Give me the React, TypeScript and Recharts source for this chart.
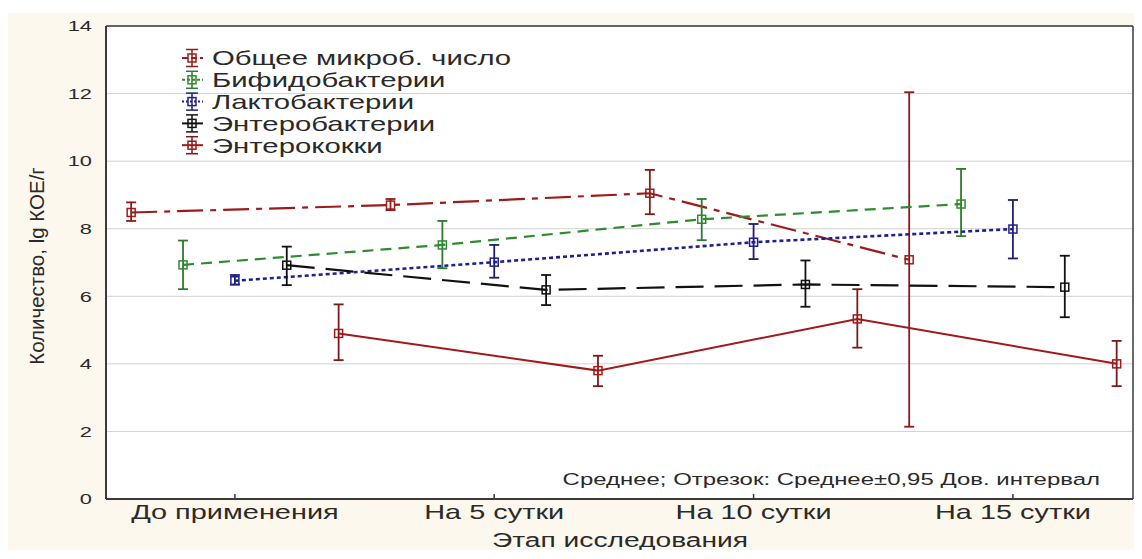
import React from 'react';
import { ComposedChart, Line, XAxis, YAxis, CartesianGrid, ErrorBar, Customized } from 'recharts';

// ---------- data ----------
const categories = ['До применения', 'На 5 сутки', 'На 10 сутки', 'На 15 сутки'];
const seriesNames = ['Общее микроб. число', 'Бифидобактерии', 'Лактобактерии', 'Энтеробактерии', 'Энтерококки'];

const totalMean = [8.48, 8.7, 9.05, 7.08];
const totalLow = [8.23, 8.55, 8.43, 2.14];
const totalHigh = [8.78, 8.88, 9.74, 12.04];

const bifidoMean = [6.93, 7.52, 8.28, 8.73];
const bifidoLow = [6.21, 6.83, 7.66, 7.78];
const bifidoHigh = [7.65, 8.23, 8.88, 9.77];

const lactoMean = [6.46, 7.01, 7.6, 7.99];
const lactoLow = [6.35, 6.55, 7.1, 7.12];
const lactoHigh = [6.63, 7.52, 8.14, 8.85];

const enteroMean = [6.92, 6.19, 6.35, 6.27];
const enteroLow = [6.33, 5.74, 5.69, 5.38];
const enteroHigh = [7.47, 6.63, 7.06, 7.2];

const coccusMean = [4.9, 3.8, 5.33, 4.0];
const coccusLow = [4.11, 3.34, 4.48, 3.34];
const coccusHigh = [5.76, 4.24, 6.21, 4.68];

const yTicks = [0, 2, 4, 6, 8, 10, 12, 14];
const xTitle = 'Этап исследования';
const yTitle = 'Количество, lg КОЕ/г';
const footnote = 'Среднее; Отрезок: Среднее±0,95 Дов. интервал';

// ---------- styles ----------
const FONT = '"Liberation Sans", Arial, sans-serif';
const SX = 1.41;
const TEXT = '#2a2a2a';
const AXIS = '#3a3a3a';
const STYLES = [
  { color: '#9c1c1c', bar: '#8a1a1a', dash: '26 7 6 7', legendDash: '6 3', offset: -0.4, width: 2.2 },
  { color: '#2e8b2e', bar: '#2e7a2e', dash: '11 7', legendDash: '3 2', offset: -0.2, width: 2.2 },
  { color: '#1f1f8f', bar: '#1f1f6f', dash: '4 3', legendDash: '2 2', offset: 0, width: 2.6 },
  { color: '#111111', bar: '#111111', dash: '28 11', legendDash: undefined as string | undefined, offset: 0.2, width: 2.2 },
  { color: '#a01a1a', bar: '#7a1a1a', dash: undefined as string | undefined, legendDash: undefined as string | undefined, offset: 0.4, width: 2 },
];
const DOMAIN: [number, number] = [-0.497, 3.463];

const means = [totalMean, bifidoMean, lactoMean, enteroMean, coccusMean];
const lows = [totalLow, bifidoLow, lactoLow, enteroLow, coccusLow];
const highs = [totalHigh, bifidoHigh, lactoHigh, enteroHigh, coccusHigh];

const seriesData = means.map((m, s) =>
  categories.map((_, i) => ({
    x: i + STYLES[s].offset,
    y: m[i],
    err: [m[i] - lows[s][i], highs[s][i] - m[i]],
  }))
);

const XTick = (props: any) => {
  const { x, y, payload } = props;
  return (
    <g>
      <line x1={x} x2={x} y1={y} y2={y - 5} stroke={AXIS} strokeWidth={1.5} />
      <text
        transform={`translate(${x},${y + 20}) scale(${SX},1)`}
        textAnchor="middle"
        fontSize={20.5}
        fill={TEXT}
        fontFamily={FONT}
      >
        {categories[Math.round(payload.value)]}
      </text>
    </g>
  );
};

const YTick = (props: any) => {
  const { x, y, payload } = props;
  return (
    <text
      transform={`translate(${x},${y}) scale(${SX},1)`}
      textAnchor="end"
      dominantBaseline="central"
      fontSize={15.5}
      fill={TEXT}
      fontFamily={FONT}
    >
      {payload.value}
    </text>
  );
};

const squareDot = (color: string) => (props: any) => {
  const { cx, cy, index } = props;
  if (cx == null || cy == null) return <g key={index} />;
  return <rect key={index} x={cx - 4} y={cy - 4} width={8} height={8} fill="none" stroke={color} strokeWidth={1.5} />;
};

const Overlay = () => {
  const legendX = 184;
  const legendTop = 45;
  const rowH = 21.8;
  return (
    <g fontFamily={FONT}>
      {seriesNames.map((name, i) => {
        const cy = legendTop + i * rowH;
        const st = STYLES[i];
        return (
          <g key={name}>
            <line x1={legendX - 10} x2={legendX + 11} y1={cy} y2={cy} stroke={st.color} strokeWidth={2} strokeDasharray={st.legendDash} />
            <line x1={legendX} x2={legendX} y1={cy - 8.5} y2={cy + 8.5} stroke={st.bar} strokeWidth={1.5} />
            <line x1={legendX - 6} x2={legendX + 6} y1={cy - 8.5} y2={cy - 8.5} stroke={st.bar} strokeWidth={1.5} />
            <line x1={legendX - 6} x2={legendX + 6} y1={cy + 8.5} y2={cy + 8.5} stroke={st.bar} strokeWidth={1.5} />
            <rect x={legendX - 4} y={cy - 4} width={8} height={8} fill="none" stroke={st.color} strokeWidth={1.5} />
            <text transform={`translate(${legendX + 20},${cy}) scale(${SX},1)`} dominantBaseline="central" fontSize={20.8} fill={TEXT}>
              {name}
            </text>
          </g>
        );
      })}
      <text transform={`translate(1092,472) scale(${SX},1)`} textAnchor="end" fontSize={17} fill={TEXT}>
        {footnote}
      </text>
      <text transform={`translate(612,534) scale(${SX},1)`} textAnchor="middle" fontSize={20} fill={TEXT}>
        {xTitle}
      </text>
      <text transform={`translate(28,253) rotate(-90)`} textAnchor="middle" dominantBaseline="central" fontSize={20.5} fill={TEXT}>
        {yTitle}
      </text>
    </g>
  );
};

export default function App() {
  return (
    <div style={{ marginTop: 5, width: 1134, height: 537, background: '#fcf8ed', overflow: 'visible' }}>
      <ComposedChart width={1134} height={545} margin={{ top: 12, right: 8, left: 0, bottom: 8 }}>
        <CartesianGrid vertical={false} stroke="#d2d2d2" fill="#ffffff" fillOpacity={1} />
        <XAxis
          type="number"
          dataKey="x"
          domain={DOMAIN}
          ticks={[0, 1, 2, 3]}
          interval={0}
          allowDataOverflow
          height={51}
          tickSize={0}
          tickMargin={0}
          tickLine={false}
          tick={XTick}
          axisLine={{ stroke: AXIS, strokeWidth: 2 }}
        />
        <XAxis
          xAxisId="top"
          orientation="top"
          type="number"
          domain={DOMAIN}
          ticks={[0, 1, 2, 3]}
          allowDataOverflow
          height={1}
          tickSize={4}
          tick={false}
          axisLine={{ stroke: AXIS, strokeWidth: 1.5 }}
          tickLine={{ stroke: AXIS }}
        />
        <YAxis
          type="number"
          domain={[0, 14]}
          ticks={yTicks}
          interval={0}
          width={98}
          tickSize={0}
          tickMargin={14}
          tickLine={false}
          tick={YTick}
          axisLine={{ stroke: AXIS, strokeWidth: 2 }}
        />
        <YAxis
          yAxisId="right"
          orientation="right"
          type="number"
          domain={[0, 14]}
          ticks={yTicks}
          width={1}
          tickSize={5}
          tick={false}
          axisLine={{ stroke: AXIS, strokeWidth: 1.5 }}
          tickLine={{ stroke: AXIS }}
        />
        {seriesData.map((d, s) => (
          <Line
            key={seriesNames[s]}
            data={d}
            dataKey="y"
            name={seriesNames[s]}
            type="linear"
            stroke={STYLES[s].color}
            strokeWidth={STYLES[s].width}
            strokeDasharray={STYLES[s].dash}
            dot={squareDot(STYLES[s].color)}
            activeDot={false}
            isAnimationActive={false}
          >
            <ErrorBar dataKey="err" direction="y" width={5} stroke={STYLES[s].bar} strokeWidth={1.8} isAnimationActive={false} />
          </Line>
        ))}
        <Customized component={Overlay} />
      </ComposedChart>
    </div>
  );
}
